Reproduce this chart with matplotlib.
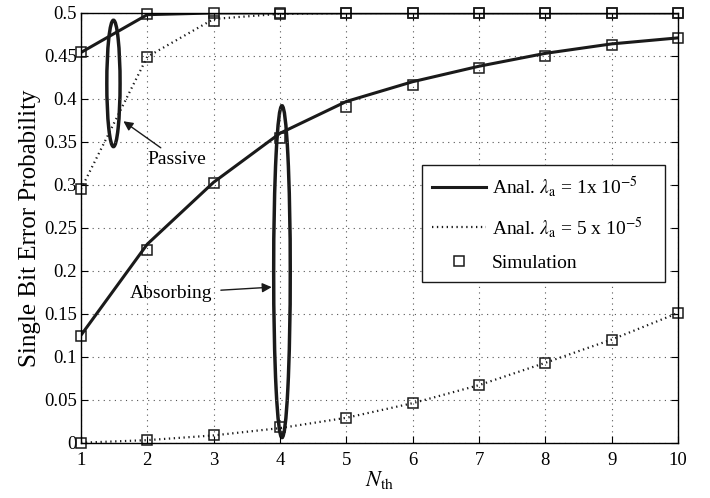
import matplotlib.pyplot as plt
from matplotlib.patches import Ellipse
from matplotlib.lines import Line2D

plt.rcParams['font.family'] = ['Liberation Serif', 'DejaVu Serif']
plt.rcParams['mathtext.fontset'] = 'stix'

# Datos
n_th = [1, 2, 3, 4, 5, 6, 7, 8, 9, 10]

# Pasivo
pas_anal_1 = [0.454, 0.498, 0.5, 0.5, 0.5, 0.5, 0.5, 0.5, 0.5, 0.5]
pas_anal_5 = [0.295, 0.449, 0.493, 0.499, 0.5, 0.5, 0.5, 0.5, 0.5, 0.5]
pas_sim_1 = [0.454, 0.499, 0.5, 0.5, 0.5, 0.5, 0.5, 0.5, 0.5, 0.5]
pas_sim_5 = [0.295, 0.449, 0.491, 0.499, 0.5, 0.5, 0.5, 0.5, 0.5, 0.5]

# Absorbente
abs_anal_1 = [0.125, 0.231, 0.303, 0.360, 0.397, 0.420, 0.438, 0.453, 0.464, 0.471]
abs_anal_5 = [0.0, 0.003, 0.0085, 0.017, 0.029, 0.046, 0.067, 0.093, 0.120, 0.151]
abs_sim_1 = [0.124, 0.224, 0.302, 0.355, 0.391, 0.416, 0.436, 0.450, 0.463, 0.471]
abs_sim_5 = [0.0, 0.003, 0.0085, 0.018, 0.029, 0.046, 0.067, 0.093, 0.120, 0.151]

fig = plt.figure(figsize=(7.1, 4.98), dpi=100)
ax = fig.add_axes([0.114, 0.111, 0.841, 0.863])

# Curvas analiticas
ax.plot(n_th, pas_anal_1, color='#1a1a1a', lw=2.2, ls='-')
ax.plot(n_th, abs_anal_1, color='#1a1a1a', lw=2.2, ls='-')
ax.plot(n_th, pas_anal_5, color='#1a1a1a', lw=1.6, ls=(0, (0.6, 1.6)))
ax.plot(n_th, abs_anal_5, color='#1a1a1a', lw=1.6, ls=(0, (0.6, 1.6)))

# Simulacion
for sim in [pas_sim_1, pas_sim_5, abs_sim_1, abs_sim_5]:
    ax.plot(n_th, sim, ls='none', marker='s', ms=7, mfc='none', mec='#1a1a1a', mew=1.1, clip_on=False)

# Elipses y anotaciones
ax.add_patch(Ellipse((1.49, 0.418), 0.2, 0.147, fill=False, lw=2.5, ec='#1a1a1a'))
ax.add_patch(Ellipse((4.03, 0.199), 0.25, 0.386, fill=False, lw=2.5, ec='#1a1a1a'))
ax.annotate('Passive', xy=(1.64, 0.374), xytext=(2.0, 0.33), fontsize=14,
            va='center', ha='left',
            arrowprops=dict(arrowstyle='-|>', color='#1a1a1a', lw=1, mutation_scale=14, shrinkA=0, shrinkB=0))
ax.annotate('Absorbing', xy=(3.875, 0.181), xytext=(1.74, 0.174), fontsize=14,
            va='center', ha='left',
            arrowprops=dict(arrowstyle='-|>', color='#1a1a1a', lw=1, mutation_scale=14, shrinkA=4, shrinkB=0))

ax.set_xlim(1, 10)
ax.set_ylim(0, 0.5)
ax.set_xticks(n_th)
ax.set_yticks([0, 0.05, 0.1, 0.15, 0.2, 0.25, 0.3, 0.35, 0.4, 0.45, 0.5])
ax.set_yticklabels(['0', '0.05', '0.1', '0.15', '0.2', '0.25', '0.3', '0.35', '0.4', '0.45', '0.5'])
ax.tick_params(direction='in', top=True, right=True, labelsize=13.5, length=5, pad=3)
ax.tick_params(axis='x', pad=7)
ax.grid(True, ls=(0, (1, 4)), color='#555555', lw=0.8)
for s in ax.spines.values():
    s.set_linewidth(1.0)

ax.set_xlabel(r'$N_{\mathrm{th}}$', fontsize=16, labelpad=0)
ax.set_ylabel('Single Bit Error Probability', fontsize=18, labelpad=2)

handles = [
    Line2D([0], [0], color='#1a1a1a', lw=2.2, ls='-'),
    Line2D([0], [0], color='#1a1a1a', lw=1.6, ls=(0, (0.6, 1.6))),
    Line2D([0], [0], ls='none', marker='s', ms=7, mfc='none', mec='#1a1a1a', mew=1.1),
]
labels = [r'Anal. $\lambda_{\mathrm{a}}$ = 1x 10$^{-5}$',
          r'Anal. $\lambda_{\mathrm{a}}$ = 5 x 10$^{-5}$',
          'Simulation']
leg = ax.legend(handles, labels, loc='upper left', bbox_to_anchor=(0.571, 0.3465, 0.407, 0.3),
                mode='expand', fontsize=14,
                frameon=True, fancybox=False, edgecolor='#1a1a1a', framealpha=1,
                handlelength=2.8, handletextpad=0.3, borderpad=0.5, labelspacing=0.78,
                borderaxespad=0)
leg.get_frame().set_linewidth(1.0)

fig.savefig('out.png', dpi=100)
